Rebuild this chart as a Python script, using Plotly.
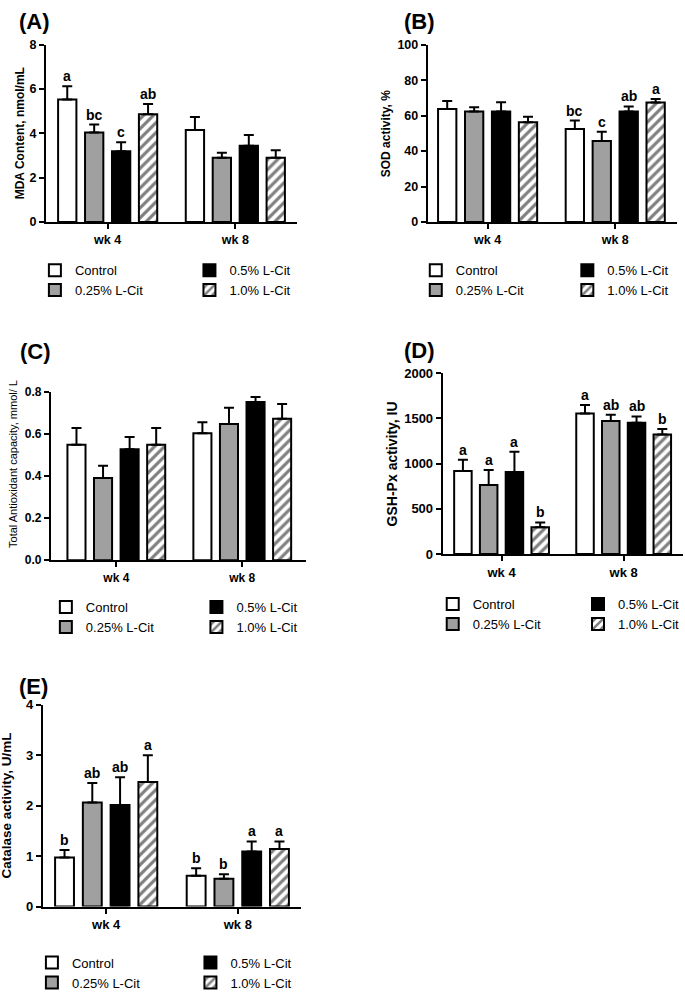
import plotly.graph_objects as go

W, H = 685, 998
FONT = "Liberation Sans, Arial, Helvetica, sans-serif"

weeks = ["wk 4", "wk 8"]
groups = ["Control", "0.25% L-Cit", "0.5% L-Cit", "1.0% L-Cit"]

# (A) MDA content, nmol/mL  -- rows: groups, cols: weeks
mda_mean = [[5.53, 4.15], [4.04, 2.90], [3.19, 3.44], [4.86, 2.90]]
mda_se = [[0.60, 0.59], [0.36, 0.23], [0.41, 0.49], [0.47, 0.34]]
mda_letters = [["a", ""], ["bc", ""], ["c", ""], ["ab", ""]]

# (B) SOD activity, %
sod_mean = [[63.7, 52.4], [62.4, 45.7], [62.4, 62.4], [56.3, 67.4]]
sod_se = [[4.6, 4.8], [2.4, 5.2], [5.2, 2.8], [3.1, 2.0]]
sod_letters = [["", "bc"], ["", "c"], ["", "ab"], ["", "a"]]

# (C) Total antioxidant capacity, mmol/L
tac_mean = [[0.549, 0.603], [0.391, 0.647], [0.527, 0.752], [0.549, 0.672]]
tac_se = [[0.079, 0.052], [0.058, 0.077], [0.058, 0.023], [0.079, 0.070]]
tac_letters = [["", ""], ["", ""], ["", ""], ["", ""]]

# (D) GSH-Px activity, IU
gsh_mean = [[918, 1553], [762, 1470], [907, 1452], [294, 1321]]
gsh_se = [[124, 95], [167, 69], [222, 69], [54, 62]]
gsh_letters = [["a", "a"], ["a", "ab"], ["a", "ab"], ["b", "b"]]

# (E) Catalase activity, U/mL
cat_mean = [[0.97, 0.61], [2.06, 0.55], [2.01, 1.09], [2.47, 1.14]]
cat_se = [[0.15, 0.15], [0.39, 0.09], [0.55, 0.20], [0.53, 0.15]]
cat_letters = [["b", "b"], ["ab", "b"], ["ab", "a"], ["a", "a"]]

BARGAP = 0.156
BARGROUPGAP = 0.32

fills = ["white", "#a0a0a0", "black", "white"]
legend_rank = [1, 2, 3, 4]
legend_col = [0, 0, 1, 1]

panels = [
    dict(tag="(A)", mean=mda_mean, se=mda_se, letters=mda_letters,
         title="MDA Content, nmol/mL", tsize=12, tbold=True, tx=20,
         ymax=8, dtick=2, fmt="", px=(46, 298), py=(38.3, 218.3),
         xr=(-0.484, 1.484), lab=(17, 0), legx=(35, 190), legy=252, ts=12.5),
    dict(tag="(B)", mean=sod_mean, se=sod_se, letters=sod_letters,
         title="SOD activity, %", tsize=12, tbold=True, tx=388,
         ymax=100, dtick=20, fmt="", px=(429, 679), py=(38.3, 218.3),
         xr=(-0.469, 1.484), lab=(403, 0), legx=(417, 569), legy=252, ts=12.5),
    dict(tag="(C)", mean=tac_mean, se=tac_se, letters=tac_letters,
         title="Total Antioxidant capacity, mmol/ L", tsize=11, tbold=False, tx=13,
         ymax=0.8, dtick=0.2, fmt=".1f", px=(51, 307), py=(390.7, 561.7),
         xr=(-0.52, 1.507), lab=(18, 335), legx=(46, 197), legy=594, ts=12,
         tcy=464),
    dict(tag="(D)", mean=gsh_mean, se=gsh_se, letters=gsh_letters,
         title="GSH-Px activity, IU", tsize=14, tbold=True, tx=393,
         ymax=2000, dtick=500, fmt="", px=(444, 685), py=(371.7, 555.3),
         xr=(-0.482, 1.486), lab=(403, 334), legx=(434, 580), legy=591, ts=13),
    dict(tag="(E)", mean=cat_mean, se=cat_se, letters=cat_letters,
         title="Catalase activity, U/mL", tsize=13.5, tbold=True, tx=7,
         ymax=4, dtick=1, fmt="", px=(43, 302), py=(708.3, 913.3),
         xr=(-0.481, 1.481), lab=(17, 675), legx=(32, 191), legy=955, ts=13),
]

fig = go.Figure()
layout = dict(
    width=W, height=H, margin=dict(l=0, r=0, t=0, b=0),
    paper_bgcolor="white", plot_bgcolor="white",
    barmode="group", bargap=BARGAP, bargroupgap=BARGROUPGAP,
    font=dict(family=FONT, color="black"),
    showlegend=True,
)
annotations = []

for k, p in enumerate(panels, start=1):
    sfx = "" if k == 1 else str(k)
    xa, ya = "x" + sfx, "y" + sfx
    leg_ids = []
    for c in range(2):
        n = 2 * (k - 1) + c + 1
        leg_ids.append("legend" if n == 1 else "legend" + str(n))

    for j, g in enumerate(groups):
        marker = dict(color=fills[j], line=dict(color="black", width=2))
        if j == 3:
            marker["pattern"] = dict(shape="/", fgcolor="black", bgcolor="white",
                                     size=7, solidity=0.45)
        fig.add_trace(go.Bar(
            x=weeks, y=p["mean"][j], name=g, marker=marker,
            error_y=dict(type="data", array=p["se"][j], arrayminus=[0, 0],
                         symmetric=False, color="black", thickness=2, width=5),
            xaxis=xa, yaxis=ya, legend=leg_ids[legend_col[j]],
            legendrank=legend_rank[j], hoverinfo="skip",
        ))
        for i, wk in enumerate(weeks):
            lt = p["letters"][j][i]
            if lt:
                annotations.append(dict(
                    x=i + (j - 1.5) * (1 - BARGAP) / 4,
                    y=p["mean"][j][i] + p["se"][j][i],
                    xref=xa, yref=ya, text="<b>%s</b>" % lt, showarrow=False,
                    yanchor="bottom", xanchor="center", yshift=0,
                    font=dict(size=14, family=FONT, color="black")))

    x0, x1 = p["px"]
    ytop, ybot = p["py"]
    layout["xaxis" + sfx] = dict(
        domain=[x0 / W, min(x1 / W, 1)], anchor=ya, type="category",
        range=list(p["xr"]), showline=True, linewidth=2, linecolor="black",
        ticks="outside", ticklen=5, tickwidth=2, tickcolor="black",
        showgrid=False, zeroline=False, fixedrange=True,
        tickfont=dict(family=FONT, size=p["ts"], weight="bold", color="black"))
    layout["yaxis" + sfx] = dict(
        domain=[1 - ybot / H, 1 - ytop / H], anchor=xa,
        range=[0, p["ymax"]], tick0=0, dtick=p["dtick"], tickformat=p["fmt"],
        showline=True, linewidth=2, linecolor="black",
        ticks="outside", ticklen=5, tickwidth=2, tickcolor="black",
        showgrid=False, zeroline=False, fixedrange=True,
        tickfont=dict(family=FONT, size=p["ts"], weight="bold", color="black"))

    for c in range(2):
        layout[leg_ids[c]] = dict(
            x=p["legx"][c] / W, y=1 - p["legy"] / H, xanchor="left", yanchor="top",
            orientation="v", bgcolor="rgba(0,0,0,0)", borderwidth=0,
            tracegroupgap=0, itemwidth=30, itemclick=False, itemdoubleclick=False,
            font=dict(family=FONT, size=13, color="black"))

    # panel tag
    annotations.append(dict(
        x=p["lab"][0] / W, y=1 - p["lab"][1] / H, xref="paper", yref="paper",
        text="<b>%s</b>" % p["tag"], showarrow=False, xanchor="left", yanchor="top",
        font=dict(size=22, family=FONT, color="black")))
    # y-axis title
    tcy = p.get("tcy", (ytop + ybot) / 2)
    ttxt = "<b>%s</b>" % p["title"] if p["tbold"] else p["title"]
    annotations.append(dict(
        x=p["tx"] / W, y=1 - tcy / H, xref="paper", yref="paper",
        text=ttxt, textangle=-90, showarrow=False, xanchor="center", yanchor="middle",
        font=dict(size=p["tsize"], family=FONT, color="black")))

layout["annotations"] = annotations
fig.update_layout(**layout)
fig.write_html(
    "out.html",
    config={"displayModeBar": False, "staticPlot": True},
    post_script="document.body.style.margin='0px';document.body.style.overflow='hidden';",
)
